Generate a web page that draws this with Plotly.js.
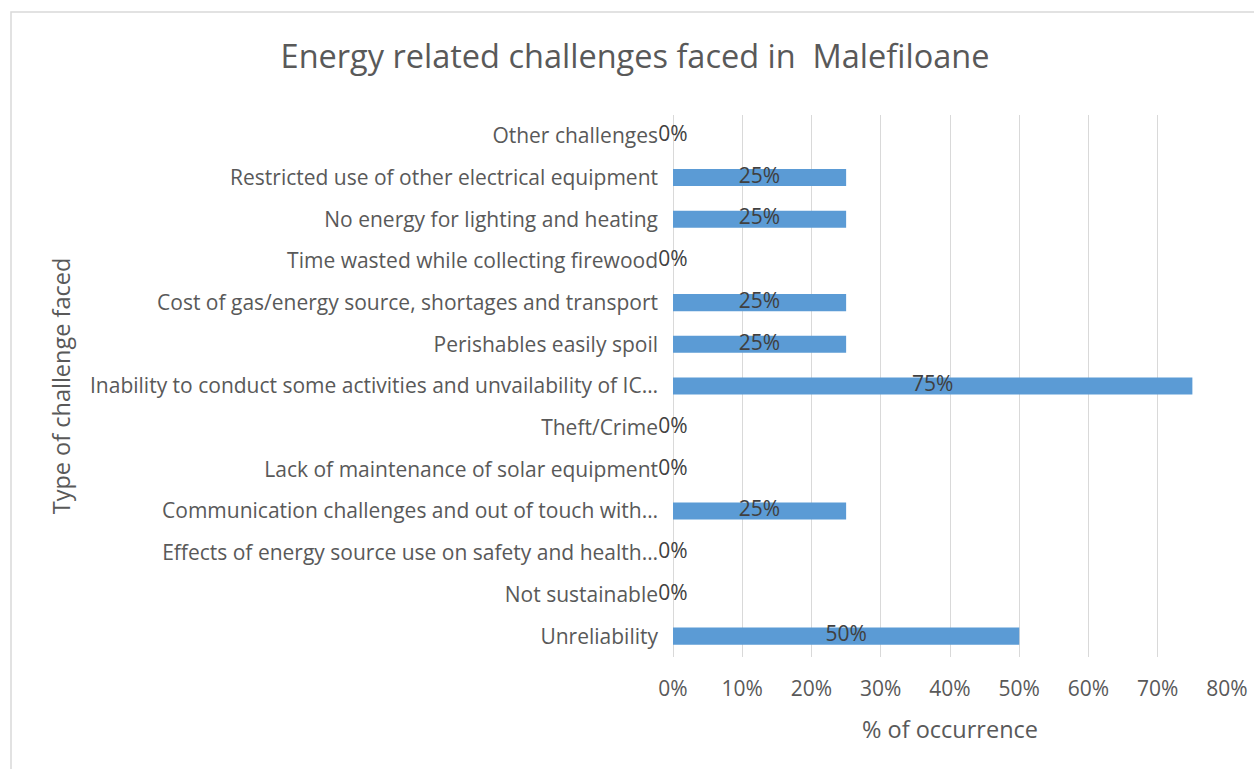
<!DOCTYPE html>
<html>
<head>
<meta charset="utf-8">
<script src="https://cdn.plot.ly/plotly-3.0.1.min.js"></script>
<style>
  html, body { margin: 0; padding: 0; background: #ffffff; }
  #chart { width: 1254px; height: 769px; }
</style>
</head>
<body>
<div id="chart"></div>
<script>
// Categories in Excel order (first = bottom of the chart)
const categories = [
  "Unreliability",
  "Not sustainable",
  "Effects of energy source use on safety and health…",
  "Communication challenges and out of touch with…",
  "Lack of maintenance of solar equipment",
  "Theft/Crime",
  "Inability to conduct some activities and unvailability of IC…",
  "Perishables easily spoil",
  "Cost of gas/energy source, shortages and transport",
  "Time wasted while collecting firewood",
  "No energy for lighting and heating",
  "Restricted use of other electrical equipment",
  "Other challenges"
];
// % of occurrence
const occurrence = [50, 0, 0, 25, 0, 0, 75, 25, 25, 0, 25, 25, 0];
const xTickValues = [0, 10, 20, 30, 40, 50, 60, 70, 80];
const xTickLabels = ["0%", "10%", "20%", "30%", "40%", "50%", "60%", "70%", "80%"];

const FONT = "Open Sans, Liberation Sans, sans-serif";
const GREY = "#595959";

const barTrace = {
  type: "bar",
  orientation: "h",
  x: occurrence,
  y: categories,
  marker: { color: "#5B9BD5" },
  hoverinfo: "none",
  showlegend: false
};

const labelTrace = {
  type: "scatter",
  mode: "text",
  x: occurrence.map(v => v / 2),
  y: categories,
  text: occurrence.map(v => v + "%"),
  textposition: "middle center",
  textfont: { family: FONT, size: 21, color: "#404040" },
  hoverinfo: "none",
  showlegend: false,
  cliponaxis: false
};

const layout = {
  width: 1254,
  height: 769,
  paper_bgcolor: "#ffffff",
  plot_bgcolor: "#ffffff",
  margin: { l: 673, r: 27, t: 115, b: 112, pad: 0 },
  font: { family: FONT, color: GREY },
  bargap: 0.59,
  title: {
    text: "Energy related challenges faced in  Malefiloane",
    font: { family: FONT, size: 32.5, color: GREY },
    x: 0.5064, xanchor: "center",
    y: 1 - 57 / 769, yanchor: "middle",
    xref: "container", yref: "container"
  },
  xaxis: {
    range: [0, 80],
    tickmode: "array",
    tickvals: xTickValues,
    ticktext: xTickLabels,
    showgrid: true,
    gridcolor: "#D9D9D9",
    gridwidth: 1,
    zeroline: true,
    zerolinecolor: "#D9D9D9",
    zerolinewidth: 1,
    showline: false,
    ticks: "",
    ticklabelstandoff: 17,
    tickfont: { family: FONT, size: 21, color: GREY },
    fixedrange: true,
    title: {
      text: "% of occurrence",
      font: { family: FONT, size: 23.5, color: GREY },
      standoff: 20
    }
  },
  yaxis: {
    type: "category",
    categoryorder: "array",
    categoryarray: categories,
    range: [-0.5, categories.length - 0.5],
    showgrid: false,
    zeroline: false,
    showline: false,
    ticks: "",
    ticklabelstandoff: 14,
    tickfont: { family: FONT, size: 21, color: GREY },
    fixedrange: true,
    title: {
      text: "Type of challenge faced",
      font: { family: FONT, size: 23.5, color: GREY },
      standoff: 12
    }
  },
  shapes: [{
    type: "rect",
    xref: "paper", yref: "paper",
    x0: (11 - 673) / 554, x1: (1262 - 673) / 554,
    y0: -(790 - 657) / 542, y1: 1 + (115 - 12) / 542,
    line: { color: "#D9D9D9", width: 1.5 },
    fillcolor: "rgba(0,0,0,0)",
    layer: "below"
  }]
};

Plotly.newPlot("chart", [barTrace, labelTrace], layout, { displayModeBar: false, staticPlot: true });
</script>
</body>
</html>
